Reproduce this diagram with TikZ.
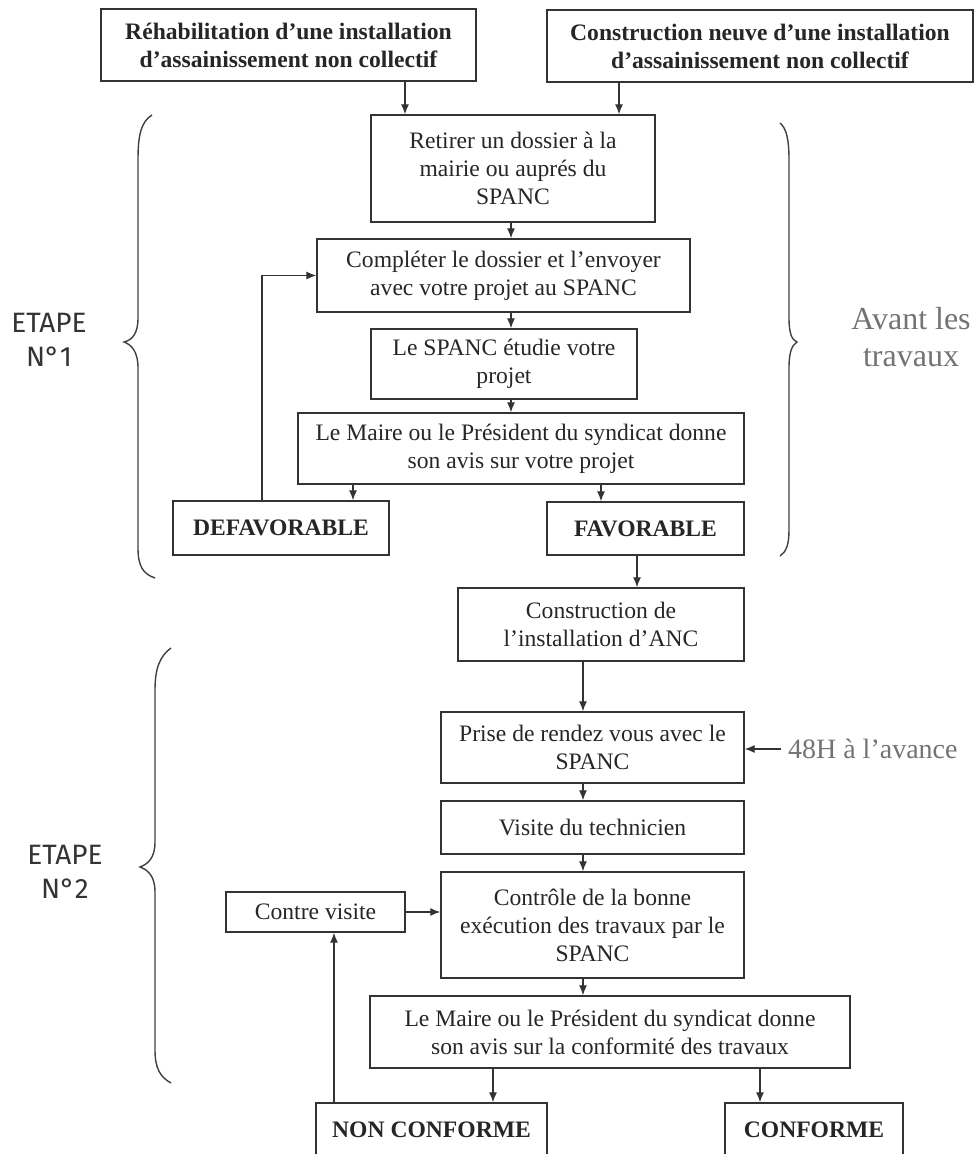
\documentclass[tikz,border=0pt]{standalone}
\usepackage{fontspec}
\setmainfont{Liberation Serif}
\newfontfamily\etapefont{Fira Sans}
\usetikzlibrary{arrows.meta}
\tikzset{
	boite/.style={draw=black!80, line width=0.7pt, inner sep=0pt, align=center, text=black!85, font=\fontsize{11.8}{14}\selectfont},
	boitegras/.style={boite, font=\fontsize{11.8}{14}\selectfont\bfseries},
	taille/.style 2 args={minimum width=#1*0.5pt, minimum height=#2*0.5pt},
	fleche/.style={-{Latex[length=5pt,width=4pt]}, line width=0.6pt, draw=black!80},
	accolade/.style={line width=0.7pt, draw=black!75},
	note/.style={text=black!55, align=center},
	etape/.style={text=black!80, align=center, font=\etapefont\fontsize{14}{17}\selectfont},
}
\begin{document}
\begin{tikzpicture}[x=0.5pt, y=-0.5pt]
	\useasboundingbox (0,0) rectangle (975,1154);
	% colonnes des fleches
	\coordinate (cRehab) at (405,0);
	\coordinate (cNeuve) at (619,0);
	\coordinate (cMilieu) at (511,0);
	\coordinate (cDefav) at (353,0);
	\coordinate (cFav) at (601,0);
	\coordinate (cRetour) at (262,0);
	\coordinate (cConstr) at (637,0);
	\coordinate (cBas) at (583,0);
	\coordinate (cNonConf) at (493,0);
	\coordinate (cConf) at (760,0);
	\coordinate (cContre) at (334,0);
	% etape 1
	\node[boitegras, taille={375}{72}] (rehab) at (288.5,45) {R\'ehabilitation d'une installation\\d'assainissement non collectif};
	\node[boitegras, taille={426}{72}] (neuve) at (760,46) {Construction neuve d'une installation\\d'assainissement non collectif};
	\node[boite, taille={284}{107}] (retirer) at (513,168.5) {Retirer un dossier \`a la\\mairie ou aupr\'es du\\SPANC};
	\node[boite, taille={373}{73}] (completer) at (503.5,275.5) {Compl\'eter le dossier et l'envoyer\\avec votre projet au SPANC};
	\node[boite, taille={266}{70}] (etudie) at (504,364) {Le SPANC \'etudie votre\\projet};
	\node[boite, taille={446}{71}] (avis) at (521,448.5) {Le Maire ou le Pr\'esident du syndicat donne\\son avis sur votre projet};
	\node[boitegras, taille={216}{54}] (defav) at (281,528) {DEFAVORABLE};
	\node[boitegras, taille={197}{53}] (fav) at (645.5,528.5) {FAVORABLE};
	\draw[fleche] (rehab.south -| cRehab) -- (retirer.north -| cRehab);
	\draw[fleche] (neuve.south -| cNeuve) -- (retirer.north -| cNeuve);
	\draw[fleche] (retirer.south -| cMilieu) -- (completer.north -| cMilieu);
	\draw[fleche] (completer.south -| cMilieu) -- (etudie.north -| cMilieu);
	\draw[fleche] (etudie.south -| cMilieu) -- (avis.north -| cMilieu);
	\draw[fleche] (avis.south -| cDefav) -- (defav.north -| cDefav);
	\draw[fleche] (avis.south -| cFav) -- (fav.north -| cFav);
	\draw[fleche] (defav.north -| cRetour) |- (completer.west);
	\draw[accolade] (152,115) .. controls (141,122) and (138,135) .. (138,160) -- (138,318) .. controls (138,334) and (132,340) .. (124,342) .. controls (132,345) and (138,352) .. (138,368) -- (138,548) .. controls (138,566) and (143,574) .. (155,578);
	\draw[accolade] (780,123) .. controls (786,128) and (789,138) .. (789,160) -- (789,318) .. controls (789,334) and (792,340) .. (797,342) .. controls (792,345) and (789,352) .. (789,368) -- (789,530) .. controls (789,545) and (786,552) .. (780,556);
	\node[etape] (etape1) at (49,340) {ETAPE\\N\textdegree1};
	\node[note, font=\fontsize{16}{18.5}\selectfont] (avant) at (911,337) {Avant les\\travaux};
	% etape 2
	\node[boite, taille={286}{73}] (constr) at (601,624.5) {Construction de\\l'installation d'ANC};
	\node[boite, taille={303}{71}] (rdv) at (592.5,747.5) {Prise de rendez vous avec le\\SPANC};
	\node[boite, taille={303}{53}] (visite) at (592.5,827.5) {Visite du technicien};
	\node[boite, taille={303}{106}] (controle) at (592.5,925) {Contr\^ole de la bonne\\ex\'ecution des travaux par le\\SPANC};
	\node[boite, taille={179}{40}] (contre) at (315.5,912) {Contre visite};
	\node[boite, taille={480}{72}] (avis2) at (610,1032) {Le Maire ou le Pr\'esident du syndicat donne\\son avis sur la conformit\'e des travaux};
	\node[boitegras, taille={231}{54}] (nonconf) at (431.5,1130) {NON CONFORME};
	\node[boitegras, taille={178}{54}] (conf) at (814,1130) {CONFORME};
	\node[note, anchor=west, font=\fontsize{14}{16}\selectfont] (avance) at (781,749) {48H \`a l'avance};
	\draw[fleche] (fav.south -| cConstr) -- (constr.north -| cConstr);
	\draw[fleche] (constr.south -| cBas) -- (rdv.north -| cBas);
	\draw[fleche] (rdv.south -| cBas) -- (visite.north -| cBas);
	\draw[fleche] (visite.south -| cBas) -- (controle.north -| cBas);
	\draw[fleche] (controle.south -| cBas) -- (avis2.north -| cBas);
	\draw[fleche] (avance.west) -- (avance.west -| rdv.east);
	\draw[fleche] (contre.east) -- (contre.east -| controle.west);
	\draw[fleche] (avis2.south -| cNonConf) -- (nonconf.north -| cNonConf);
	\draw[fleche] (avis2.south -| cConf) -- (conf.north -| cConf);
	\draw[fleche] (nonconf.north -| cContre) -- (contre.south -| cContre);
	\draw[accolade] (171,648) .. controls (160,656) and (155,668) .. (155,690) -- (155,842) .. controls (155,858) and (148,864) .. (140,867) .. controls (148,870) and (155,876) .. (155,892) -- (155,1050) .. controls (155,1068) and (160,1077) .. (171,1083);
	\node[etape] (etape2) at (65,872) {ETAPE\\N\textdegree2};
\end{tikzpicture}
\end{document}
